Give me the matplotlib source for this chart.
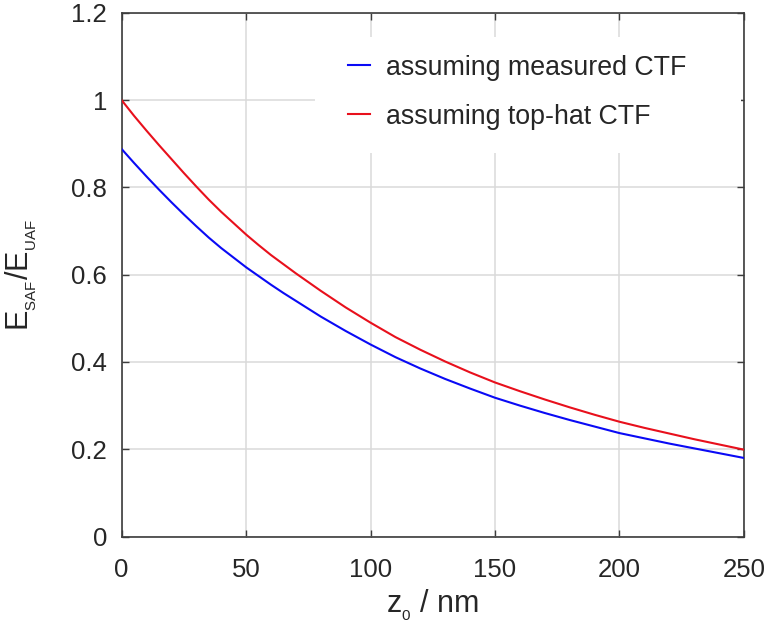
import matplotlib
matplotlib.use("Agg")
import matplotlib.pyplot as plt
from matplotlib.patches import Rectangle
from matplotlib.ticker import FuncFormatter

plt.rcParams['font.family'] = ['Liberation Sans', 'DejaVu Sans']
plt.rcParams['mathtext.fontset'] = 'custom'
plt.rcParams['mathtext.rm'] = 'Liberation Sans'

z0 = [0, 5, 10, 15, 20, 25, 30, 35, 40, 45, 50, 55, 60, 65, 70, 75, 80, 90, 100,
      110, 120, 130, 140, 150, 160, 170, 180, 190, 200, 210, 220, 230, 240, 250]
measured = [0.888, 0.856, 0.825, 0.795, 0.766, 0.738, 0.711, 0.685, 0.661, 0.639,
            0.617, 0.597, 0.577, 0.558, 0.540, 0.522, 0.504, 0.471, 0.440,
            0.411, 0.385, 0.361, 0.339, 0.318, 0.300, 0.283, 0.267, 0.252, 0.237,
            0.225, 0.213, 0.202, 0.191, 0.180]
tophat = [1.000, 0.964, 0.930, 0.897, 0.865, 0.833, 0.802, 0.772, 0.744, 0.718,
          0.692, 0.668, 0.645, 0.624, 0.603, 0.583, 0.563, 0.525, 0.490,
          0.457, 0.428, 0.401, 0.376, 0.353, 0.333, 0.314, 0.296, 0.279, 0.263,
          0.249, 0.236, 0.223, 0.211, 0.199]
labels = ["assuming measured CTF", "assuming top-hat CTF"]
xticks = [0, 50, 100, 150, 200, 250]
yticks = [0, 0.2, 0.4, 0.6, 0.8, 1.0, 1.2]

axcol = '#3c3c3c'
txtcol = '#262626'

fig = plt.figure(figsize=(7.65, 6.43), dpi=100)
ax = fig.add_axes([0.159, 0.1656, 0.9725 - 0.159, 0.980 - 0.1656])

ax.plot(z0, measured, color='#0a0af5', lw=1.5, label=labels[0], zorder=3)
ax.plot(z0, tophat, color='#e8101c', lw=1.5, label=labels[1], zorder=3)

ax.set_xlim(0, 250)
ax.set_ylim(0, 1.2)
ax.set_xticks(xticks)
ax.set_yticks(yticks)
ax.yaxis.set_major_formatter(FuncFormatter(lambda v, p: '%g' % round(v, 2)))
ax.grid(True, color='#dadada', lw=1.1)
ax.set_axisbelow(True)

for s in ax.spines.values():
    s.set_color(axcol)
    s.set_linewidth(1.2)
ax.tick_params(direction='in', length=5, width=1.0, colors=axcol, labelcolor=txtcol,
               labelsize=18.5, top=True, right=True)
ax.tick_params(axis='x', pad=15.5)
ax.tick_params(axis='y', pad=10.5)

ax.set_xlabel(r'z$_{_\mathregular{0}}$ / nm', fontsize=22, color=txtcol, labelpad=4)
ax.set_ylabel(r'E$_{_\mathregular{SAF}}$/E$_{_\mathregular{UAF}}$', fontsize=22,
              color=txtcol, labelpad=23)

# white background behind legend (covers gridlines)
ax.add_patch(Rectangle((0.310, 0.732), 0.685, 0.9536 - 0.732, transform=ax.transAxes,
                       facecolor='white', edgecolor='none', zorder=1.5))

leg = ax.legend(loc='upper left', bbox_to_anchor=(0.363, 0.920), frameon=False,
                fontsize=19.3, handlelength=0.82, handletextpad=0.63, labelspacing=0.85,
                borderpad=0, borderaxespad=0)
for t in leg.get_texts():
    t.set_color(txtcol)

fig.savefig('out.png', dpi=100)
